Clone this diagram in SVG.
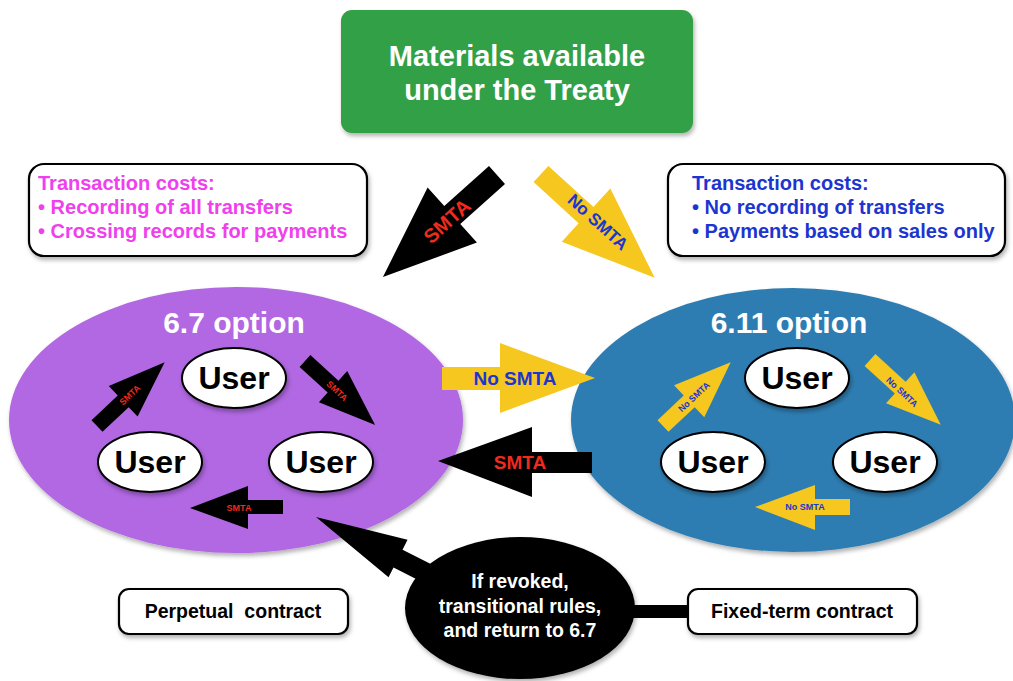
<svg xmlns="http://www.w3.org/2000/svg" width="1013" height="681" viewBox="0 0 1013 681">
<defs>
<filter id="sh" x="-10%" y="-10%" width="125%" height="130%">
<feDropShadow dx="1.5" dy="3" stdDeviation="2" flood-color="#000" flood-opacity="0.3"/>
</filter>
<style>
text{font-family:"Liberation Sans",Arial,Helvetica,sans-serif;font-weight:bold}
.box{fill:#fff;stroke:#000;stroke-width:2.2}
.user{fill:#fff;stroke:#000;stroke-width:2}
.ut{font-size:32px;fill:#000;text-anchor:middle}
.opt{font-size:30px;fill:#fff;text-anchor:middle}
.ct{font-size:20px}
.blk{fill:#000}
.yel{fill:#f5c71f}
.red{fill:#f02a1c}
.blu{fill:#1d35d0}
.mag{fill:#f040ee}
</style>
</defs>
<rect width="1013" height="681" fill="#fff"/>

<g id="treaty">
<rect x="341" y="10" width="352" height="123" rx="11" fill="#30a047" filter="url(#sh)"/>
<text x="517" y="66" font-size="29" fill="#fff" text-anchor="middle">Materials available</text>
<text x="517" y="100" font-size="29" fill="#fff" text-anchor="middle">under the Treaty</text>
</g>

<g id="costs67">
<rect class="box" x="29" y="164" width="338" height="92" rx="15" filter="url(#sh)"/>
<text class="mag ct" x="38" y="190">Transaction costs:</text>
<text class="mag ct" x="38" y="214">• Recording of all transfers</text>
<text class="mag ct" x="38" y="238">• Crossing records for payments</text>
</g>

<g id="costs611">
<rect class="box" x="668" y="164" width="337" height="92" rx="15" filter="url(#sh)"/>
<text class="blu ct" x="692" y="190">Transaction costs:</text>
<text class="blu ct" x="692" y="214">• No recording of transfers</text>
<text class="blu ct" x="692" y="238">• Payments based on sales only</text>
</g>

<g id="option67">
<ellipse cx="236" cy="420" rx="227" ry="133" fill="#b168e2" filter="url(#sh)"/>
<text class="opt" x="234" y="333">6.7 option</text>
</g>

<g id="option611">
<ellipse cx="793" cy="420" rx="222" ry="132" fill="#2f7db2" filter="url(#sh)"/>
<text class="opt" x="789" y="333">6.11 option</text>
</g>

<g id="users67">
<g id="u67a"><ellipse class="user" cx="234" cy="378" rx="52" ry="30" filter="url(#sh)"/><text class="ut" x="234" y="389">User</text></g>
<g id="u67b"><ellipse class="user" cx="150" cy="462" rx="52" ry="30" filter="url(#sh)"/><text class="ut" x="150" y="473">User</text></g>
<g id="u67c"><ellipse class="user" cx="321" cy="462" rx="52" ry="30" filter="url(#sh)"/><text class="ut" x="321" y="473">User</text></g>
</g>

<g id="users611">
<g id="u611a"><ellipse class="user" cx="797" cy="378" rx="52" ry="30" filter="url(#sh)"/><text class="ut" x="797" y="389">User</text></g>
<g id="u611b"><ellipse class="user" cx="713" cy="462" rx="52" ry="30" filter="url(#sh)"/><text class="ut" x="713" y="473">User</text></g>
<g id="u611c"><ellipse class="user" cx="885" cy="462" rx="52" ry="30" filter="url(#sh)"/><text class="ut" x="885" y="473">User</text></g>
</g>

<g id="connectors">
<!-- big top arrows -->
<polygon class="blk" transform="translate(497,175) rotate(138.2)" points="0,-12 60,-12 60,-37 153,0 60,37 60,12 0,12"/>
<text class="red" font-size="20" text-anchor="middle" transform="translate(447,221) rotate(-42)" dy="7">SMTA</text>
<polygon class="yel" transform="translate(541,174) rotate(42.4)" points="0,-11 61,-11 61,-36 154,0 61,36 61,11 0,11"/>
<text class="blu" font-size="17" text-anchor="middle" transform="translate(598,222) rotate(42)" dy="6">No SMTA</text>

<!-- middle arrows -->
<polygon class="yel" points="442,367 500,367 500,343 595,378 500,413 500,390 442,390"/>
<text class="blu" x="515" y="385" font-size="19" text-anchor="middle">No SMTA</text>
<polygon class="blk" points="592,452 532,452 532,427 438,461 532,497 532,473 592,473"/>
<text class="red" x="520" y="469" font-size="19" text-anchor="middle">SMTA</text>

<!-- small arrows in 6.7 -->
<polygon class="blk" transform="translate(97,426) rotate(-43.3)" points="0,-8 36,-8 36,-21 93,0 36,21 36,8 0,8"/>
<text class="red" font-size="9" text-anchor="middle" transform="translate(130,395) rotate(-43)" dy="3">SMTA</text>
<polygon class="blk" transform="translate(305,361) rotate(42.4)" points="0,-8 38,-8 38,-21 95,0 38,21 38,8 0,8"/>
<text class="red" font-size="9" text-anchor="middle" transform="translate(337,391) rotate(43)" dy="3">SMTA</text>
<polygon class="blk" points="283,500 248,500 248,486 190,508 248,529 248,514 283,514"/>
<text class="red" x="239" y="511" font-size="9" text-anchor="middle">SMTA</text>

<!-- small arrows in 6.11 -->
<polygon class="yel" transform="translate(663,426) rotate(-43.3)" points="0,-8 36,-8 36,-22 93,0 36,22 36,8 0,8"/>
<text class="blu" font-size="9" text-anchor="middle" transform="translate(694,397) rotate(-43)" dy="3">No SMTA</text>
<polygon class="yel" transform="translate(870,360) rotate(42.5)" points="0,-8 41,-8 41,-21 96,0 41,21 41,8 0,8"/>
<text class="blu" font-size="9" text-anchor="middle" transform="translate(902,392) rotate(43)" dy="3">No SMTA</text>
<polygon class="yel" points="850,499 815,499 815,485 755,507 815,530 815,515 850,515"/>
<text class="blu" x="805" y="510" font-size="9" text-anchor="middle">No SMTA</text>

<!-- bottom connectors -->
<polygon class="blk" transform="translate(456,588) rotate(206.9)" points="0,-10 65,-10 65,-21 157,0 65,21 65,10 0,10"/>
<rect class="blk" x="620" y="605" width="70" height="13"/>
</g>

<g id="revoked">
<ellipse cx="520" cy="608" rx="115" ry="71" fill="#000" filter="url(#sh)"/>
<text x="520" y="588" font-size="19.5" fill="#fff" text-anchor="middle">If revoked,</text>
<text x="520" y="613" font-size="19.5" fill="#fff" text-anchor="middle">transitional rules,</text>
<text x="520" y="637" font-size="19.5" fill="#fff" text-anchor="middle">and return to 6.7</text>
</g>

<g id="perpetual">
<rect class="box" x="119" y="589" width="229" height="45" rx="10" filter="url(#sh)"/>
<text x="233" y="618" font-size="19.5" fill="#000" text-anchor="middle" xml:space="preserve">Perpetual  contract</text>
</g>

<g id="fixedterm">
<rect class="box" x="688" y="589" width="229" height="45" rx="10" filter="url(#sh)"/>
<text x="802" y="618" font-size="19.5" fill="#000" text-anchor="middle">Fixed-term contract</text>
</g>
</svg>
